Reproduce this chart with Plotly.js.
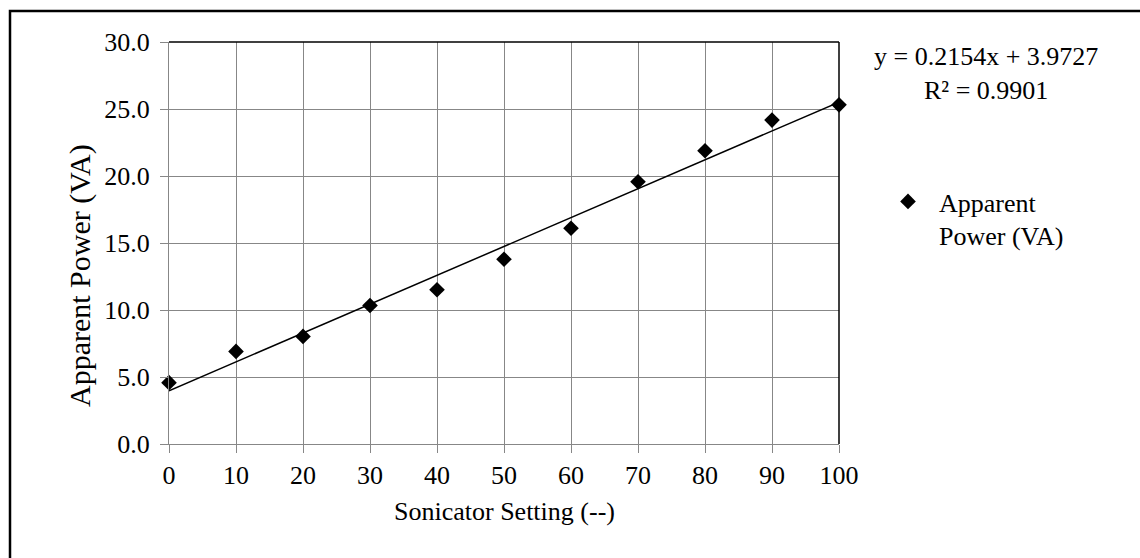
<!DOCTYPE html>
<html>
<head>
<meta charset="utf-8">
<script src="https://cdn.plot.ly/plotly-3.0.1.min.js"></script>
<style>
  html, body { margin: 0; padding: 0; background: #ffffff; }
  #chart { width: 1140px; height: 558px; }
</style>
</head>
<body>
<div id="chart"></div>
<script>
// Sonicator setting vs. measured apparent power
const settings = [0, 10, 20, 30, 40, 50, 60, 70, 80, 90, 100];
const apparentPower = [4.58, 6.91, 8.03, 10.34, 11.51, 13.79, 16.10, 19.57, 21.88, 24.17, 25.31];

// Linear trendline coefficients (least-squares fit)
const slope = 0.2154;
const intercept = 3.9727;
const rSquared = 0.9901;

const xTicks = [0, 10, 20, 30, 40, 50, 60, 70, 80, 90, 100];
const yTicks = [0, 5, 10, 15, 20, 25, 30];

const FONT = 'Liberation Serif, Times New Roman, serif';
const FS = 26;
const GRID = '#878787';

const W = 1140, H = 558;
const M = { l: 169, r: 301, t: 42, b: 114 };
const plotW = W - M.l - M.r;
const plotH = H - M.t - M.b;
// convert pixel positions to paper fractions
const px = v => (v - M.l) / plotW;
const py = v => (H - M.b - v) / plotH;

const trendX = [settings[0], settings[settings.length - 1]];
const trendY = trendX.map(x => slope * x + intercept);

const traces = [
  {
    x: trendX,
    y: trendY,
    mode: 'lines',
    line: { color: '#000000', width: 1.5 },
    showlegend: false,
    hoverinfo: 'skip',
    cliponaxis: false
  },
  {
    x: settings,
    y: apparentPower,
    mode: 'markers',
    name: 'Apparent<br>Power (VA)',
    marker: { symbol: 'diamond', size: 12, color: '#000000' },
    cliponaxis: false
  }
];

const layout = {
  width: W,
  height: H,
  margin: M,
  paper_bgcolor: '#ffffff',
  plot_bgcolor: '#ffffff',
  font: { family: FONT, size: FS, color: '#000000' },
  xaxis: {
    range: [0, 100],
    tickvals: xTicks,
    ticktext: xTicks.map(String),
    showgrid: true,
    gridcolor: GRID,
    gridwidth: 1,
    zeroline: false,
    showline: true,
    linecolor: GRID,
    linewidth: 1,
    ticks: 'outside',
    ticklen: 8,
    tickcolor: GRID,
    tickfont: { family: FONT, size: FS, color: '#000000' },
    fixedrange: true
  },
  yaxis: {
    range: [0, 30],
    tickvals: yTicks,
    ticktext: yTicks.map(v => v.toFixed(1)),
    showgrid: true,
    gridcolor: GRID,
    gridwidth: 1,
    zeroline: false,
    showline: true,
    linecolor: GRID,
    linewidth: 1,
    ticks: 'outside',
    ticklen: 8,
    tickcolor: GRID,
    ticklabelstandoff: 5,
    tickfont: { family: FONT, size: FS, color: '#000000' },
    fixedrange: true
  },
  showlegend: true,
  legend: {
    x: px(877),
    y: py(178),
    xanchor: 'left',
    yanchor: 'top',
    bgcolor: 'rgba(0,0,0,0)',
    borderwidth: 0,
    valign: 'top',
    font: { family: FONT, size: FS, color: '#000000' },
    itemwidth: 52
  },
  shapes: [
    // plot area border, top and right
    { type: 'line', xref: 'paper', yref: 'paper', x0: 0, x1: 1, y0: 1, y1: 1,
      line: { color: '#000000', width: 1.5 }, layer: 'above' },
    { type: 'line', xref: 'paper', yref: 'paper', x0: 1, x1: 1, y0: 0, y1: 1,
      line: { color: '#000000', width: 1.5 }, layer: 'above' },
    // chart area frame
    { type: 'rect', xref: 'paper', yref: 'paper',
      x0: px(10), x1: px(W + 20), y0: py(H + 20), y1: py(11),
      line: { color: '#000000', width: 2.5 }, fillcolor: 'rgba(0,0,0,0)', layer: 'above' }
  ],
  annotations: [
    {
      xref: 'paper', yref: 'paper',
      x: px(986), y: py(74),
      xanchor: 'center', yanchor: 'middle',
      text: 'y = ' + slope.toFixed(4) + 'x + ' + intercept.toFixed(4) +
            '<br>R² = ' + rSquared.toFixed(4),
      showarrow: false,
      align: 'center',
      font: { family: FONT, size: FS, color: '#000000' }
    },
    {
      xref: 'paper', yref: 'paper',
      x: px(504), y: py(512),
      xanchor: 'center', yanchor: 'middle',
      text: 'Sonicator Setting (--)',
      showarrow: false,
      font: { family: FONT, size: FS, color: '#000000' }
    },
    {
      xref: 'paper', yref: 'paper',
      x: px(80), y: py(275),
      xanchor: 'center', yanchor: 'middle',
      text: 'Apparent Power (VA)',
      textangle: -90,
      showarrow: false,
      font: { family: FONT, size: 30, color: '#000000' }
    }
  ]
};

Plotly.newPlot('chart', traces, layout, { staticPlot: true, displayModeBar: false });
</script>
</body>
</html>
